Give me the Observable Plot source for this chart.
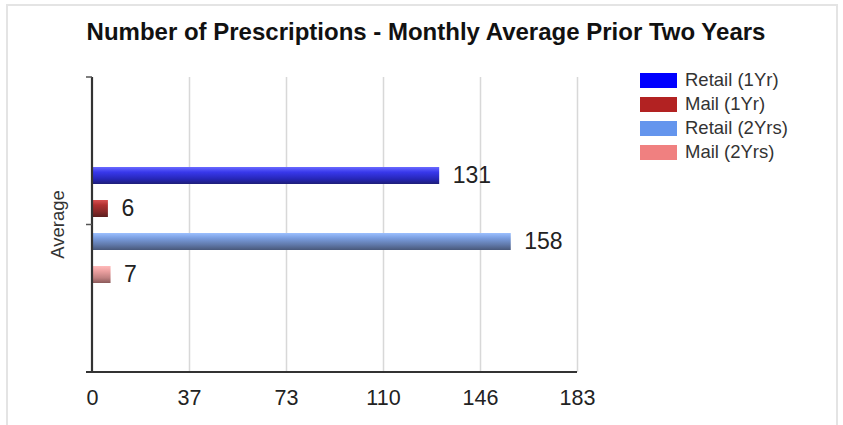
<!DOCTYPE html>
<html>
<head>
<meta charset="utf-8">
<script src="https://cdn.jsdelivr.net/npm/d3@7"></script>
<script src="https://cdn.jsdelivr.net/npm/@observablehq/plot@0.6"></script>
<style>
  html, body { margin: 0; padding: 0; background: #fff; }
  #wrap { position: relative; width: 843px; height: 425px; overflow: hidden; font-family: "Liberation Sans", Arial, sans-serif; }
  #border { position: absolute; left: 6px; top: 4px; width: 832px; height: 440px; border: 2px solid #e4e4e4; box-sizing: border-box; }
  #title { position: absolute; left: 0; width: 852px; top: 18px; text-align: center; font-weight: bold; font-size: 24px; color: #111; }
  #legend { position: absolute; left: 640px; top: 68px; font-size: 18.5px; color: #333; }
  .row { display: flex; align-items: center; height: 24px; }
  .sw { width: 37px; height: 15px; margin-right: 8px; }
  #chart { position: absolute; left: 0; top: 0; }
</style>
</head>
<body>
<div id="wrap">
  <div id="border"></div>
  <div id="chart"></div>
  <div id="title"></div>
  <div id="legend"></div>
</div>
<script>
const titleText = "Number of Prescriptions - Monthly Average Prior Two Years";
const category = "Average";
const series = ["Retail (1Yr)", "Mail (1Yr)", "Retail (2Yrs)", "Mail (2Yrs)"];
const values = [131, 6, 158, 7];
const legendColors = ["#0000ff", "#b22222", "#6495ed", "#f08080"];
const xMax = 183;
const xTicks = [0, 36.6, 73.2, 109.8, 146.4, 183];

// gradient stops (top -> bottom) per series
const gradients = [
  ["#6a6aff", "#3838ec", "#2626b8", "#1e1e78"],
  ["#d85050", "#b03030", "#842828", "#5a1e1e"],
  ["#9cc0ff", "#7a9ee0", "#6078a8", "#48587a"],
  ["#ffbaba", "#eca0a0", "#c08080", "#8a5a5a"]
];

const data = series.map((s, i) => ({series: s, value: values[i], category}));

document.getElementById("title").textContent = titleText;
const legend = document.getElementById("legend");
series.forEach((s, i) => {
  const r = document.createElement("div");
  r.className = "row";
  r.innerHTML = `<div class="sw" style="background:${legendColors[i]}"></div><span>${s}</span>`;
  legend.appendChild(r);
});

const ns = "http://www.w3.org/2000/svg";
function defsMark() {
  const g = document.createElementNS(ns, "g");
  const defs = document.createElementNS(ns, "defs");
  gradients.forEach((stops, i) => {
    const lg = document.createElementNS(ns, "linearGradient");
    lg.setAttribute("id", "grad" + i);
    lg.setAttribute("x1", "0"); lg.setAttribute("y1", "0");
    lg.setAttribute("x2", "0"); lg.setAttribute("y2", "1");
    const offs = [0, 0.3, 0.7, 1];
    stops.forEach((c, j) => {
      const st = document.createElementNS(ns, "stop");
      st.setAttribute("offset", offs[j]);
      st.setAttribute("stop-color", c);
      lg.appendChild(st);
    });
    defs.appendChild(lg);
  });
  g.appendChild(defs);
  return g;
}

function line(g, x1, y1, x2, y2, stroke, w) {
  const l = document.createElementNS(ns, "line");
  l.setAttribute("x1", x1); l.setAttribute("x2", x2);
  l.setAttribute("y1", y1); l.setAttribute("y2", y2);
  l.setAttribute("stroke", stroke); l.setAttribute("stroke-width", w);
  g.appendChild(l);
}

function axesMark(index, scales, values, dim) {
  const g = document.createElementNS(ns, "g");
  const x0 = dim.marginLeft, x1 = dim.width - dim.marginRight;
  const top = dim.marginTop, bottom = dim.height - dim.marginBottom;
  line(g, x0, top, x0, bottom, "#333", 2.2);
  line(g, x0 - 6, bottom, x1, bottom, "#333", 2.2);
  [top, (top + bottom) / 2].forEach(y => line(g, x0 - 6, y, x0, y, "#555", 1.5));
  const lab = document.createElementNS(ns, "text");
  lab.setAttribute("transform", `translate(${x0 - 34},${(top + bottom) / 2}) rotate(-90)`);
  lab.setAttribute("text-anchor", "middle");
  lab.setAttribute("dy", "0.35em");
  lab.setAttribute("font-size", 18.5);
  lab.setAttribute("fill", "#333");
  lab.textContent = category;
  g.appendChild(lab);
  return g;
}

const chart = Plot.plot({
  width: 843,
  height: 425,
  marginLeft: 92,
  marginRight: 266,
  marginTop: 77,
  marginBottom: 53,
  style: {fontFamily: "'Liberation Sans', Arial, sans-serif", background: "transparent", overflow: "visible"},
  x: {domain: [0, xMax], ticks: xTicks, label: null},
  y: {domain: series, paddingInner: 0.5, paddingOuter: 2.62, axis: null},
  color: {domain: series, range: series.map((s, i) => `url(#grad${i})`)},
  marks: [
    defsMark,
    Plot.gridX(xTicks.filter(d => d > 0), {stroke: "#d8d8d8", strokeOpacity: 1, strokeWidth: 1.5}),
    Plot.barX(data, {x: "value", y: "series", fill: "series"}),
    Plot.text(data, {x: "value", y: "series", text: d => String(d.value), textAnchor: "start", dx: 13, fontSize: 23, fill: "#222"}),
    Plot.axisX({ticks: xTicks, tickFormat: d => String(Math.round(d)), tickSize: 0, tickPadding: 17, fontSize: 21.5, fill: "#222", label: null}),
    axesMark
  ]
});
document.getElementById("chart").appendChild(chart);
</script>
</body>
</html>
